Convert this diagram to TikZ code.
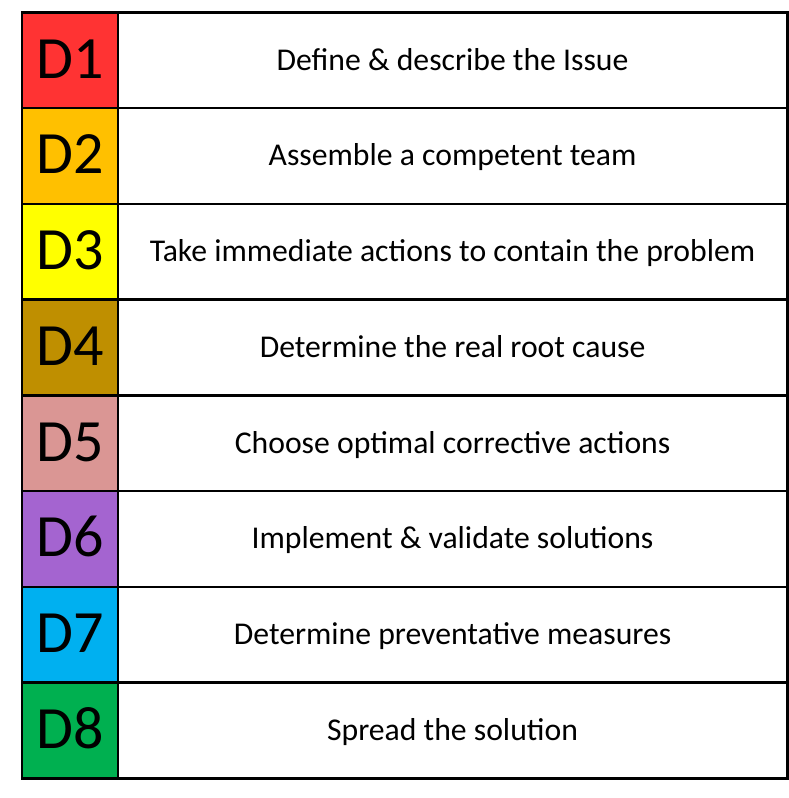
\documentclass[tikz,border=0pt]{standalone}
\usepackage{fontspec}
\setmainfont{Carlito}
\definecolor{cA}{HTML}{FF3333}
\definecolor{cB}{HTML}{FFC000}
\definecolor{cC}{HTML}{FFFF00}
\definecolor{cD}{HTML}{BF8F00}
\definecolor{cE}{HTML}{DA9694}
\definecolor{cF}{HTML}{A464D0}
\definecolor{cG}{HTML}{00B0F0}
\definecolor{cH}{HTML}{00B050}
\tikzset{
  dcell/.style={draw=black, line width=2.6pt, minimum width=96pt, minimum height=95.75pt, inner sep=0pt, font=\fontsize{60}{60}\selectfont, text height=36pt, text depth=0pt, anchor=north west},
  tcell/.style={draw=black, line width=2.6pt, minimum width=669.5pt, minimum height=95.75pt, inner sep=0pt, font=\fontsize{31.7}{32}\selectfont, text height=20pt, text depth=0pt, anchor=north west, fill=white},
}
\begin{document}
\begin{tikzpicture}[x=1pt,y=-1pt]
\useasboundingbox (0,0) rectangle (789,798);
\foreach \i/\c/\t in {0/cA/{Define \& describe the Issue},1/cB/{Assemble a competent team},2/cC/{Take immediate actions to contain the problem},3/cD/{Determine the real root cause},4/cE/{Choose optimal corrective actions},5/cF/{Implement \& validate solutions},6/cG/{Determine preventative measures},7/cH/{Spread the solution}}{
  \pgfmathtruncatemacro{\n}{\i+1}
  \node[dcell, fill=\c] (d\n) at (20.5, {11+\i*95.75}) {D\n};
  \node[tcell] (t\n) at (116.5, {11+\i*95.75}) {\t};
}
\end{tikzpicture}
\end{document}
